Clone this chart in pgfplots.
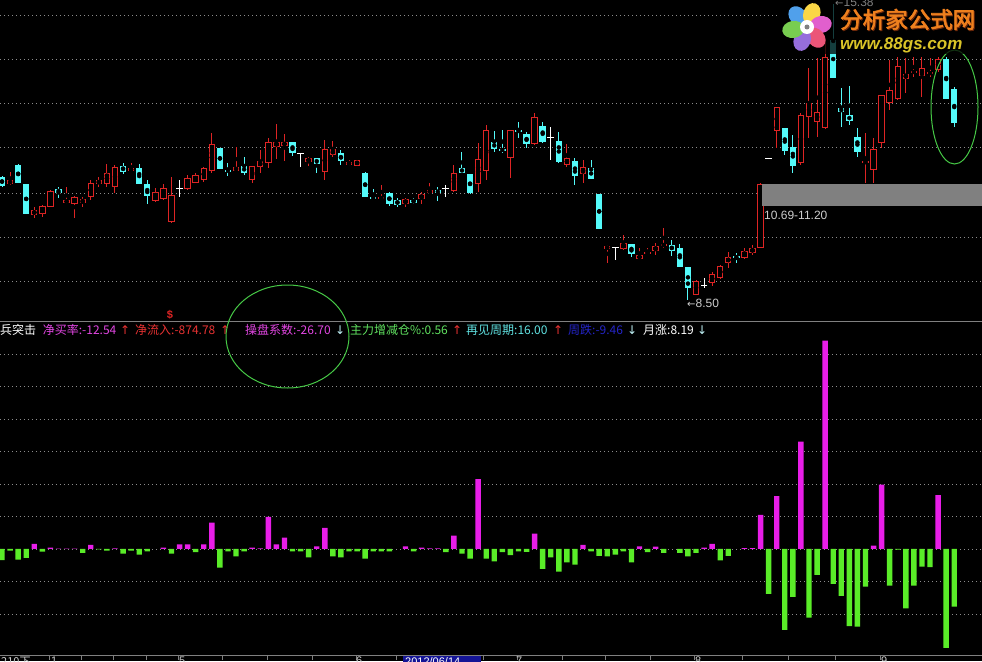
\documentclass[border=0pt]{standalone}
\usepackage{pgfplots}
\pgfplotsset{compat=1.18}
\usepackage{pgfplotstable}
\usepackage{fontspec}
\setmainfont{Liberation Sans}
\newfontfamily\cjk{Noto Sans CJK SC}
\newfontfamily\logofont{Noto Sans CJK SC}[FakeBold=3]
\newfontfamily\symfont{DejaVu Sans}

\definecolor{upred}{RGB}{222,36,36}
\definecolor{dncyan}{RGB}{84,250,250}
\definecolor{histpink}{RGB}{232,30,232}
\definecolor{histgreen}{RGB}{90,236,40}
\definecolor{gridgray}{RGB}{140,140,140}
\definecolor{framegray}{RGB}{128,128,128}
\definecolor{ringgreen}{RGB}{70,200,70}
\definecolor{tpink}{RGB}{226,70,226}
\definecolor{tred}{RGB}{232,50,50}
\definecolor{tgreen}{RGB}{96,226,96}
\definecolor{tcyan}{RGB}{96,226,226}
\definecolor{tblue}{RGB}{36,36,200}
\definecolor{arrowcyan}{RGB}{190,240,245}
\definecolor{labelgray}{RGB}{205,205,205}
\definecolor{bandgray}{RGB}{128,128,128}
\definecolor{logoorange}{RGB}{238,128,30}
\definecolor{logoshadow}{RGB}{110,40,10}
\definecolor{logoolive}{RGB}{218,196,40}
\definecolor{datebox}{RGB}{20,20,150}
\definecolor{petalblue}{RGB}{80,160,235}
\definecolor{petalyellow}{RGB}{250,215,70}
\definecolor{petalmagenta}{RGB}{225,95,205}
\definecolor{petalred}{RGB}{235,85,120}
\definecolor{petalviolet}{RGB}{150,110,220}
\definecolor{petalgreen}{RGB}{120,205,80}

% daily candles: index, open, high, low, close
\pgfplotstableread{
i o h l c
1 11.20 11.48 11.18 11.29
4 10.48 10.67 10.41 10.60
5 10.51 10.71 10.44 10.69
6 10.67 11.06 10.67 11.04
8 10.76 11.13 10.74 10.83
9 10.74 10.92 10.41 10.90
10 10.76 10.90 10.67 10.85
11 10.90 11.29 10.83 11.22
12 11.20 11.36 11.13 11.29
13 11.20 11.66 11.13 11.46
14 11.13 11.64 10.99 11.60
16 11.50 11.69 11.50 11.57
19 10.81 11.11 10.78 11.02
20 10.85 11.20 10.83 11.11
21 10.32 11.36 10.30 10.95
23 11.09 11.41 11.06 11.34
24 11.22 11.46 11.22 11.41
25 11.29 11.60 11.25 11.57
26 11.50 12.38 11.46 12.13
29 11.50 12.06 11.50 11.60
31 11.29 11.62 11.22 11.62
32 11.60 11.99 11.46 11.73
33 11.69 12.27 11.57 12.18
34 12.06 12.59 11.78 12.18
35 12.08 12.36 11.73 12.18
38 11.71 11.83 11.62 11.80
40 11.48 12.22 11.29 12.01
41 11.87 12.20 11.83 12.01
43 11.64 11.76 11.62 11.71
44 11.62 11.76 11.62 11.76
47 10.85 11.18 10.85 10.90
50 10.74 10.88 10.67 10.85
52 10.85 11.02 10.74 10.97
53 10.99 11.22 10.97 11.06
56 11.04 11.64 11.02 11.46
59 11.20 12.15 11.02 11.78
60 11.50 12.57 11.29 12.45
63 11.80 12.45 11.34 12.45
66 12.13 12.85 12.11 12.76
70 11.64 12.13 11.60 11.80
72 11.43 11.76 11.22 11.60
75 9.69 9.79 9.37 9.76
77 9.69 10.02 9.67 9.83
79 9.46 9.72 9.46 9.55
80 9.58 9.72 9.55 9.62
81 9.65 9.83 9.55 9.76
82 9.76 10.18 9.72 9.81
86 8.63 8.97 8.63 8.95
88 8.90 9.16 8.84 9.11
89 9.02 9.32 9.00 9.30
90 9.37 9.62 9.25 9.51
92 9.48 9.72 9.46 9.65
93 9.60 9.79 9.55 9.72
94 9.72 11.22 9.72 11.20
96 12.43 12.99 12.04 12.99
99 11.69 12.85 11.64 12.80
100 12.76 13.89 12.27 13.08
101 12.64 14.12 12.29 12.87
102 12.50 14.54 12.48 14.15
107 11.69 12.38 11.22 11.73
108 11.53 12.27 11.22 12.01
109 12.15 13.27 12.04 13.27
110 13.08 14.08 12.92 13.38
111 13.17 14.15 13.15 13.94
112 13.64 14.12 13.31 13.75
113 13.78 14.15 13.68 13.82
114 13.71 14.15 13.22 13.89
115 13.75 14.12 13.68 13.80
116 13.85 14.15 13.80 14.10
}\upcandles

\pgfplotstableread{
i o h l c
0 11.36 11.39 11.13 11.15
2 11.64 11.66 11.22 11.22
3 11.20 11.20 10.51 10.51
7 11.09 11.13 10.88 10.99
15 11.62 11.69 11.43 11.48
17 11.57 11.66 11.20 11.20
18 11.20 11.29 10.74 10.92
27 12.04 12.04 11.55 11.55
28 11.53 11.69 11.39 11.48
30 11.62 11.83 11.41 11.46
36 12.18 12.18 11.85 11.92
39 11.80 11.80 11.46 11.66
42 11.92 11.99 11.64 11.73
45 11.46 11.48 10.90 10.90
46 10.90 11.09 10.83 10.85
48 10.99 11.02 10.69 10.74
49 10.83 10.88 10.67 10.71
51 10.83 10.88 10.74 10.76
54 11.06 11.13 10.81 10.99
57 11.57 11.94 11.46 11.46
58 11.43 11.43 10.97 10.99
61 12.18 12.43 11.94 12.01
62 12.01 12.45 11.92 11.97
64 12.45 12.64 12.27 12.41
65 12.36 12.41 12.04 12.13
67 12.55 12.64 12.15 12.18
69 12.20 12.41 11.69 11.71
71 11.73 11.80 11.18 11.39
73 11.57 11.76 11.32 11.32
74 10.97 10.97 10.16 10.16
78 9.81 9.81 9.51 9.58
83 9.79 9.90 9.53 9.65
84 9.72 9.81 9.28 9.28
85 9.28 9.28 8.50 8.79
91 9.53 9.60 9.37 9.48
97 12.50 12.50 11.87 11.97
98 12.06 12.34 11.46 11.62
103 14.54 15.38 13.66 13.66
104 12.96 13.43 12.52 12.87
105 12.80 13.47 12.57 12.66
106 12.29 12.50 11.83 11.94
117 14.10 14.15 13.17 13.17
118 13.40 13.45 12.52 12.62
}\downcandles

% unchanged days: index, price, high, low
\pgfplotstableread{
i p h l
22 11.09 11.29 10.90
37 11.90 11.92 11.60
55 11.09 11.18 10.90
68 12.29 12.52 11.76
76 9.72 9.74 9.44
87 8.84 9.02 8.79
95 11.80 11.80 11.80
}\dojicandles

\pgfplotsset{
  panel/.style={
    scale only axis, width=982pt,
    xmin=-0.25, xmax=121.44,
    axis line style={draw=none},
    ymajorgrids, yticklabels=\empty, xticklabels=\empty,
    ytick style={draw=none},
    grid style={gridgray, line width=0.9pt, dash pattern=on 0.9pt off 3.1pt},
  },
  candle bar/.style 2 args={only marks, mark=none, forget plot,
    error bars/y dir=both, error bars/y explicit, error bars/error mark=none,
    error bars/error bar style={#1, line width=#2}},
}

\begin{document}
\begin{tikzpicture}
\path[use as bounding box] (0pt,0pt) rectangle (982pt,-661pt);
\clip (0pt,0pt) rectangle (982pt,-661pt);
\fill[black] (0pt,0pt) rectangle (982pt,-661pt);

% price panel
\begin{axis}[panel, at={(0pt,-320pt)}, anchor=south west, height=320pt,
  ymin=8.045, ymax=15.47, xtick=\empty,
  ytick={8.93,9.97,10.99,12.04,13.08,14.10}]
  \draw[gridgray, line width=0.9pt, dash pattern=on 0.9pt off 3.1pt]
    (axis cs:-0.25,15.12) -- (axis cs:96.4,15.12);
  % rising days: red wick, hollow red body
  \addplot[candle bar={upred}{1pt}] table[x=i,
    y expr={(\thisrow{h}+\thisrow{l})/2}, y error expr={(\thisrow{h}-\thisrow{l})/2}] {\upcandles};
  \addplot[candle bar={upred}{6.4pt}] table[x=i,
    y expr={(\thisrow{o}+\thisrow{c})/2}, y error expr={(\thisrow{c}-\thisrow{o})/2}] {\upcandles};
  \addplot[candle bar={black}{4.4pt}] table[x=i,
    y expr={(\thisrow{o}+\thisrow{c})/2}, y error expr={max((\thisrow{c}-\thisrow{o})/2-0.0232,0)}] {\upcandles};
  % falling days: solid cyan
  \addplot[candle bar={dncyan}{1pt}] table[x=i,
    y expr={(\thisrow{h}+\thisrow{l})/2}, y error expr={(\thisrow{h}-\thisrow{l})/2}] {\downcandles};
  \addplot[candle bar={dncyan}{6.4pt}] table[x=i,
    y expr={(\thisrow{o}+\thisrow{c})/2}, y error expr={(\thisrow{o}-\thisrow{c})/2}] {\downcandles};
  % unchanged days: white cross
  \addplot[only marks, mark=-, mark size=3.4pt, mark options={white, line width=1.1pt},
    error bars/y dir=both, error bars/y explicit, error bars/error mark=none,
    error bars/error bar style={white, line width=1pt}]
    table[x=i, y=p, y error plus expr={\thisrow{h}-\thisrow{p}},
      y error minus expr={\thisrow{p}-\thisrow{l}}] {\dojicandles};
  % price band
  \fill[bandgray] (axis cs:94.18,11.20) rectangle (axis cs:121.44,10.69);
\end{axis}

% flow histogram panel
\begin{axis}[panel, at={(0pt,-655pt)}, anchor=south west, height=334pt,
  ymin=-3.262, ymax=7.015, ytick={-2,-1,0,1,2,3,4,5,6},
  xtick={5.82,9.79,13.75,17.84,21.81,27.26,32.84,38.41,43.87,48.82,59.6,63.82,69.39,74.72,80.30,85.75,91.70,97.40,103.22,108.80},
  xtick pos=left, tick align=outside, major tick length=5pt,
  xtick style={framegray, line width=0.8pt}]
  \addplot[ybar, bar width=5.4pt, bar shift=0pt, fill=histpink, draw=none] coordinates {
    (4,0.16) (6,0.04) (7,0.01) (8,0.01) (9,0.01) (11,0.13) (14,0.02) (20,0.04)
    (22,0.14) (23,0.14) (25,0.14) (26,0.81) (31,0.04) (32,0.02) (33,0.99) (34,0.14)
    (35,0.35) (39,0.08) (40,0.65) (50,0.08) (52,0.04) (53,0.02) (54,0.02) (56,0.41)
    (59,2.15) (66,0.47) (72,0.13) (79,0.08) (81,0.07) (87,0.04) (88,0.16) (92,0.03)
    (93,0.03) (94,1.05) (96,1.63) (99,3.30) (102,6.41) (108,0.10) (109,1.98) (116,1.66)};
  \addplot[ybar, bar width=5.4pt, bar shift=0pt, fill=histgreen, draw=none] coordinates {
    (0,-0.34) (1,-0.05) (2,-0.33) (3,-0.27) (5,-0.08) (10,-0.12) (12,-0.01) (13,-0.05)
    (15,-0.14) (16,-0.05) (17,-0.17) (18,-0.07) (21,-0.14) (24,-0.10) (27,-0.57) (28,-0.07)
    (29,-0.23) (30,-0.07) (36,-0.07) (37,-0.07) (38,-0.26) (41,-0.23) (42,-0.26) (43,-0.07)
    (44,-0.07) (45,-0.30) (46,-0.07) (47,-0.07) (48,-0.07) (51,-0.07) (55,-0.10) (57,-0.14)
    (58,-0.30) (60,-0.30) (61,-0.38) (62,-0.10) (63,-0.19) (64,-0.07) (65,-0.09) (67,-0.61)
    (68,-0.26) (69,-0.70) (70,-0.41) (71,-0.48) (73,-0.07) (74,-0.21) (75,-0.23) (76,-0.17)
    (77,-0.07) (78,-0.41) (80,-0.10) (82,-0.12) (84,-0.12) (85,-0.23) (86,-0.12) (89,-0.35)
    (90,-0.21) (95,-1.38) (97,-2.49) (98,-1.47) (100,-2.11) (101,-0.80) (103,-1.07) (104,-1.44)
    (105,-2.37) (106,-2.39) (107,-1.16) (110,-1.13) (111,-0.02) (112,-1.83) (113,-1.13) (114,-0.54)
    (115,-0.56) (117,-3.04) (118,-1.77)};
\end{axis}

% panel frame lines
\draw[framegray, line width=1pt] (0pt,-321pt) -- (982pt,-321pt);
\draw[framegray, line width=1pt] (0pt,-655pt) -- (982pt,-655pt);

% price labels
\node[anchor=base west, inner sep=0pt, text=labelgray, font=\fontsize{12}{12}\selectfont] at (764pt,-219pt) {10.69-11.20};
\node[anchor=base west, inner sep=0pt, text=labelgray, font=\fontsize{12}{12}\selectfont] at (687pt,-307pt) {{\symfont\fontsize{10}{10}\selectfont ←}8.50};
\node[anchor=base, inner sep=0pt, text=upred, font=\bfseries\fontsize{11}{11}\selectfont] at (170pt,-318pt) {\$};

% indicator title row
\begin{scope}[every node/.style={anchor=base west, inner sep=0pt, font=\cjk\fontsize{12}{12}\selectfont}]
\node[text=white] at (0pt,-334pt) {兵突击};
\node[text=tpink] at (42.7pt,-334pt) {净买率:-12.54};
\node[text=tred, font=\symfont\fontsize{12}{12}\selectfont] at (120pt,-334pt) {↑};
\node[text=tred] at (135pt,-334pt) {净流入:-874.78};
\node[text=tred, font=\symfont\fontsize{12}{12}\selectfont] at (220pt,-334pt) {↑};
\node[text=tpink] at (245pt,-334pt) {操盘系数:-26.70};
\node[text=arrowcyan, font=\symfont\fontsize{12}{12}\selectfont] at (335pt,-334pt) {↓};
\node[text=tgreen] at (350pt,-334pt) {主力增减仓\%:0.56};
\node[text=tred, font=\symfont\fontsize{12}{12}\selectfont] at (452pt,-334pt) {↑};
\node[text=tcyan] at (466pt,-334pt) {再见周期:16.00};
\node[text=tred, font=\symfont\fontsize{12}{12}\selectfont] at (553pt,-334pt) {↑};
\node[text=tblue] at (568pt,-334pt) {周跌:-9.46};
\node[text=arrowcyan, font=\symfont\fontsize{12}{12}\selectfont] at (627pt,-334pt) {↓};
\node[text=white] at (643pt,-334pt) {月涨:8.19};
\node[text=arrowcyan, font=\symfont\fontsize{12}{12}\selectfont] at (697pt,-334pt) {↓};
\end{scope}

% highlight rings
\draw[ringgreen, line width=1pt] (287.5pt,-336.5pt) ellipse [x radius=61.5pt, y radius=51.5pt];
\draw[ringgreen, line width=1pt] (954.5pt,-107pt) ellipse [x radius=23.5pt, y radius=57pt];

% date axis labels
\fill[datebox] (403pt,-656pt) rectangle (481pt,-662pt);
\begin{scope}[every node/.style={anchor=north west, inner sep=0pt, font=\fontsize{11}{11}\selectfont}]
\node[text=labelgray] at (1pt,-657pt) {{\cjk 210下}};
\node[text=labelgray] at (51pt,-657pt) {1};
\node[text=labelgray] at (179pt,-657pt) {5};
\node[text=labelgray] at (356pt,-657pt) {6};
\node[text=white] at (405pt,-657pt) {2012/06/14};
\node[text=labelgray] at (516pt,-657pt) {7};
\node[text=labelgray] at (695pt,-657pt) {8};
\node[text=labelgray] at (881pt,-657pt) {9};
\end{scope}

% site emblem on a dimmed backdrop
\fill[black, opacity=0.75] (778pt,0pt) rectangle (982pt,-54pt);
\node[anchor=base west, inner sep=0pt, text=gray, font=\fontsize{12}{12}\selectfont] at (835pt,-7pt) {{\symfont\fontsize{10}{10}\selectfont ←}15.38};
\begin{scope}[shift={(807pt,-27pt)}]
  \fill[petalblue, rotate=130] (14pt,0pt) ellipse [x radius=11pt, y radius=8.5pt];
  \fill[petalyellow, rotate=70] (14pt,0pt) ellipse [x radius=11pt, y radius=8.5pt];
  \fill[petalmagenta, rotate=10] (14pt,0pt) ellipse [x radius=11pt, y radius=8.5pt];
  \fill[petalred, rotate=-50] (14pt,0pt) ellipse [x radius=11pt, y radius=8.5pt];
  \fill[petalviolet, rotate=-110] (14pt,0pt) ellipse [x radius=11pt, y radius=8.5pt];
  \fill[petalgreen, rotate=190] (14pt,0pt) ellipse [x radius=11pt, y radius=8.5pt];
  \fill[white] (0pt,0pt) circle (7pt);
  \fill[gray] (0pt,0pt) circle (2.5pt);
\end{scope}
\node[anchor=base west, inner sep=0pt, text=logoshadow, font=\logofont\fontsize{22.5}{22.5}\selectfont] at (841pt,-29pt) {分析家公式网};
\node[anchor=base west, inner sep=0pt, text=logoorange, font=\logofont\fontsize{22.5}{22.5}\selectfont] at (840pt,-28pt) {分析家公式网};
\node[anchor=base west, inner sep=0pt, text=logoolive, font=\bfseries\itshape\fontsize{17}{17}\selectfont] at (840pt,-49pt) {www.88gs.com};
\end{tikzpicture}
\end{document}
